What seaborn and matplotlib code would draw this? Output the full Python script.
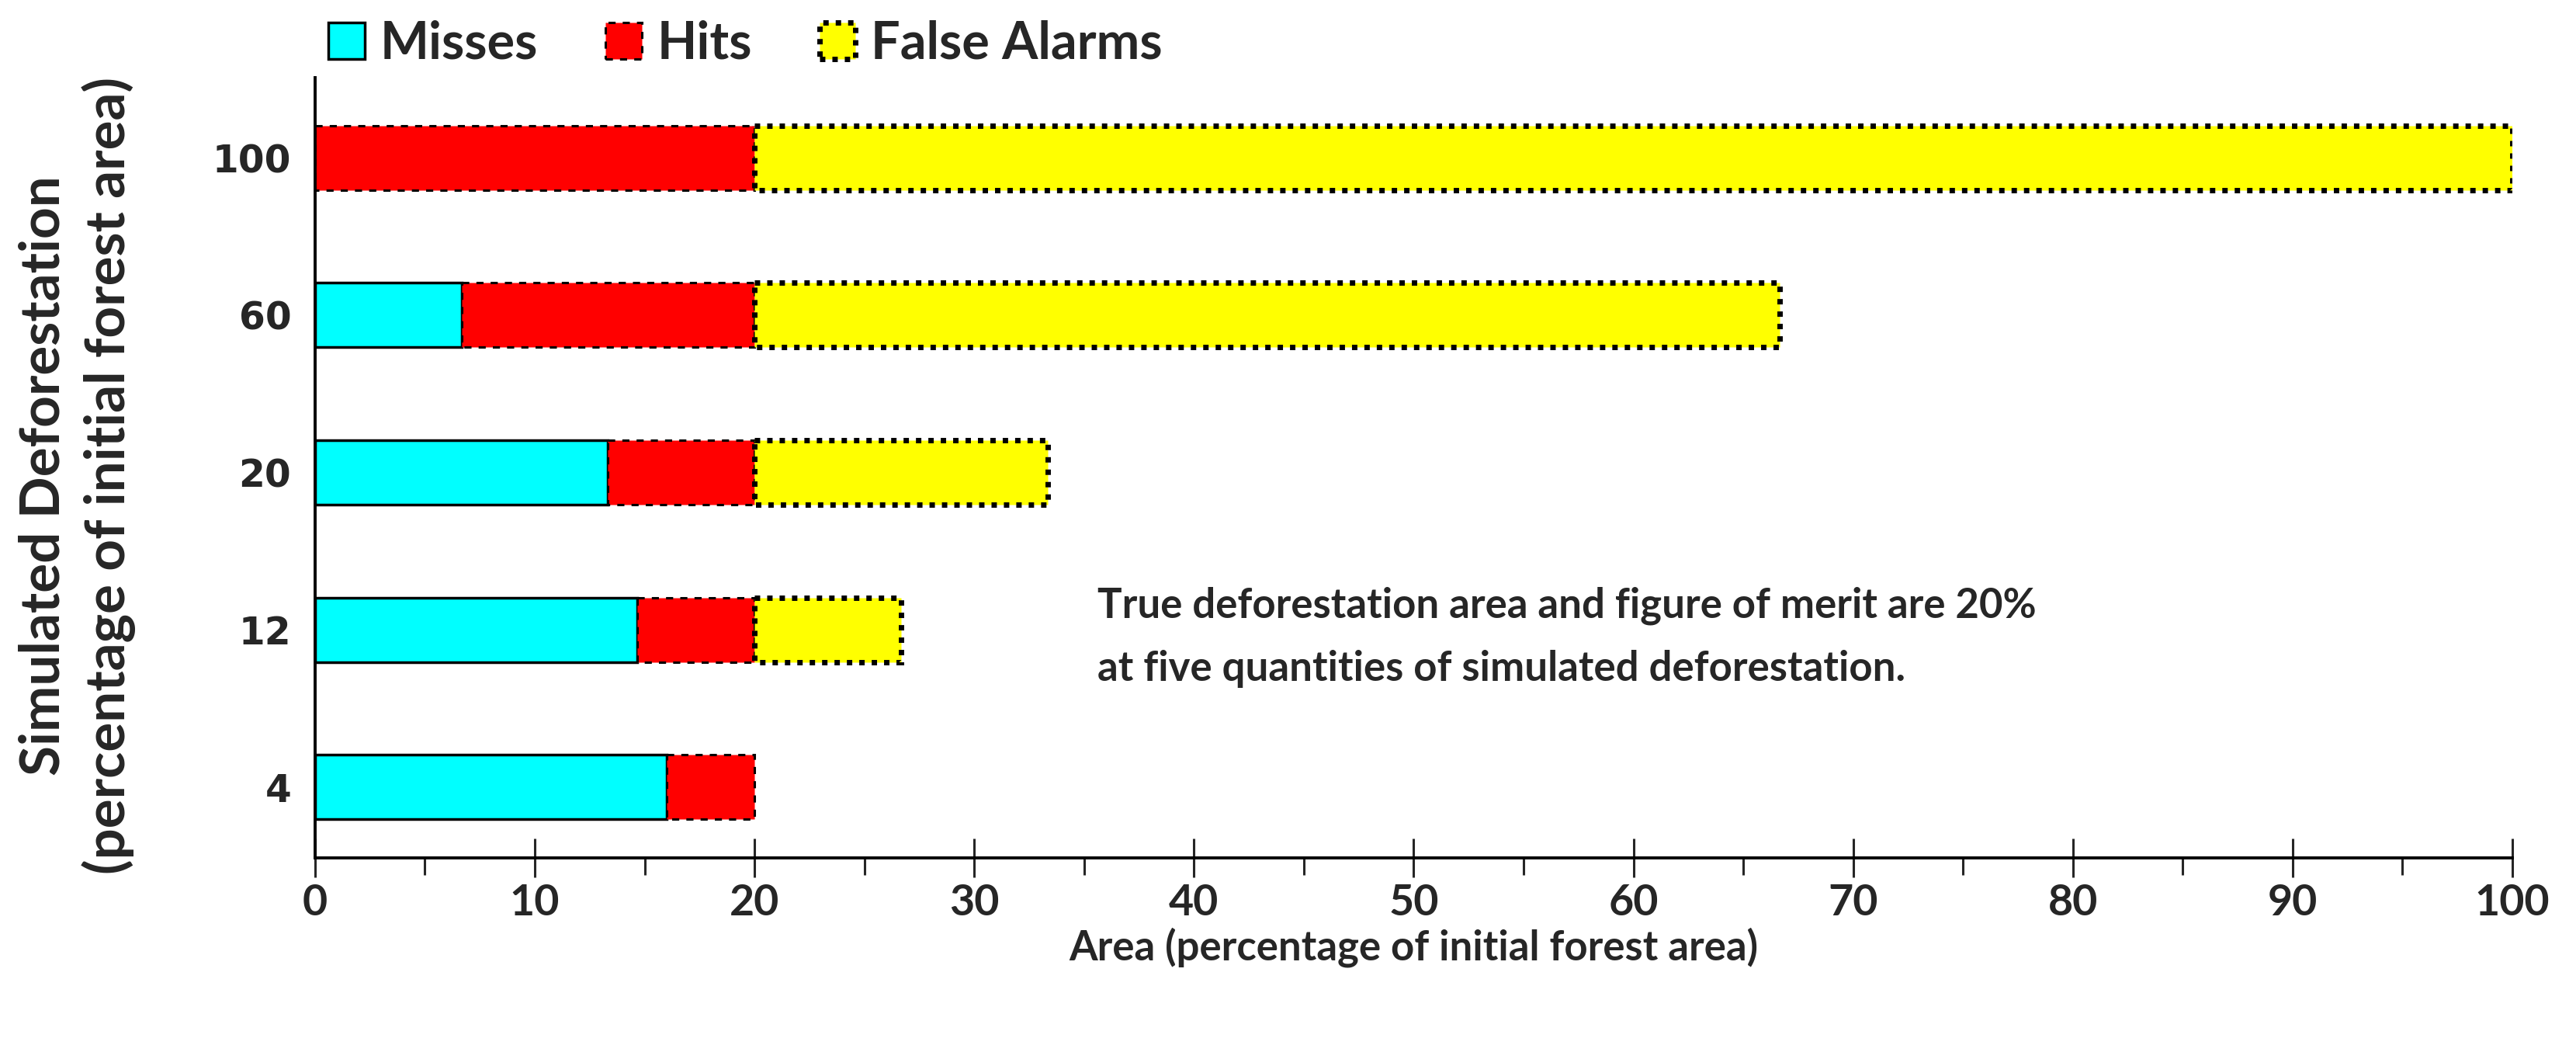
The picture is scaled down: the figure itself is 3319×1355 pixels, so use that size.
import matplotlib
matplotlib.use('Agg')
import matplotlib.pyplot as plt
import matplotlib.patches as mpatches
from matplotlib.ticker import MultipleLocator
import seaborn as sns
import pandas as pd

# simulated deforestation quantities (top to bottom)
categories = ['100', '60', '20', '12', '4']
misses = [0.0, 6.67, 13.33, 14.67, 16.0]
hits = [20.0, 13.33, 6.67, 5.33, 4.0]
false_alarms = [80.0, 46.67, 13.33, 6.67, 0.0]
x_ticks = [0, 10, 20, 30, 40, 50, 60, 70, 80, 90, 100]

sns.set_style('white')
plt.rcParams['font.family'] = ['Lato', 'DejaVu Sans']
plt.rcParams['font.weight'] = 'bold'

FS = 38

# segment styles: fill, edge dash, edge width
styles = {
    'Misses': dict(color='#00FFFF', ls='-', lw=2.5),
    'Hits': dict(color='#FF0000', ls=(0, (3, 3)), lw=2.2),
    'False Alarms': dict(color='#FFFF00', ls=(0, (1, 1.3)), lw=5),
}

fig = plt.figure(figsize=(33.19, 13.55), dpi=100)
ax = fig.add_axes([0.1223, 0.1845, 0.8530, 0.7417])

df = pd.DataFrame({'cat': categories, 'Misses': misses, 'Hits': hits,
                   'False Alarms': false_alarms})
lefts = [0.0] * len(categories)
for name in ['Misses', 'Hits', 'False Alarms']:
    st = styles[name]
    n_before = len(ax.patches)
    sns.barplot(data=df, x=name, y='cat', order=categories, orient='h',
                color=st['color'], saturation=1, width=0.41, ax=ax)
    new = ax.patches[n_before:]
    for p, left, w in zip(new, lefts, df[name]):
        p.set_x(left)
        p.set_edgecolor('black')
        p.set_linestyle(st['ls'])
        p.set_linewidth(st['lw'])
        if w == 0:
            p.set_visible(False)
    lefts = [l + w for l, w in zip(lefts, df[name])]

ax.set_xlim(0, 100)
ax.set_ylim(4.45, -0.51)
ax.xaxis.set_major_locator(plt.FixedLocator(x_ticks))
ax.xaxis.set_minor_locator(MultipleLocator(5))
ax.tick_params(axis='x', which='major', direction='inout', length=36, width=2.2,
               labelsize=40, pad=6, bottom=True)
ax.tick_params(axis='x', which='minor', direction='out', length=16, width=2.2, bottom=True)
ax.tick_params(axis='y', length=0, pad=22)
for lab in ax.get_yticklabels():
    lab.set_fontfamily('DejaVu Sans')
    lab.set_fontsize(35)
    lab.set_fontweight('bold')

for side in ['top', 'right']:
    ax.spines[side].set_visible(False)
for side in ['left', 'bottom']:
    ax.spines[side].set_color('black')
    ax.spines[side].set_linewidth(2.8)

ax.set_xlabel('Area (percentage of initial forest area)', fontsize=FS,
              fontweight='bold', labelpad=4)
ax.set_ylabel('Simulated Deforestation\n(percentage of initial forest area)',
              fontsize=51, fontweight='bold', linespacing=1.3)
ax.yaxis.set_label_coords(-0.0815, 0.49)

ax.text(35.6, 3.045, 'True deforestation area and figure of merit are 20%\n'
        'at five quantities of simulated deforestation.',
        fontsize=FS, fontweight='bold', ha='left', va='center', linespacing=1.8)

handles = [mpatches.Patch(facecolor=styles[n]['color'], edgecolor='black',
                          linestyle=styles[n]['ls'], linewidth=styles[n]['lw'], label=n)
           for n in ['Misses', 'Hits', 'False Alarms']]
fig.legend(handles=handles, loc='center left', bbox_to_anchor=(0.1195, 0.958),
           ncol=3, frameon=False, fontsize=48, handlelength=0.7, handleheight=0.7,
           handletextpad=0.3, columnspacing=1.3, borderaxespad=0)

fig.savefig('out.png', dpi=100)
